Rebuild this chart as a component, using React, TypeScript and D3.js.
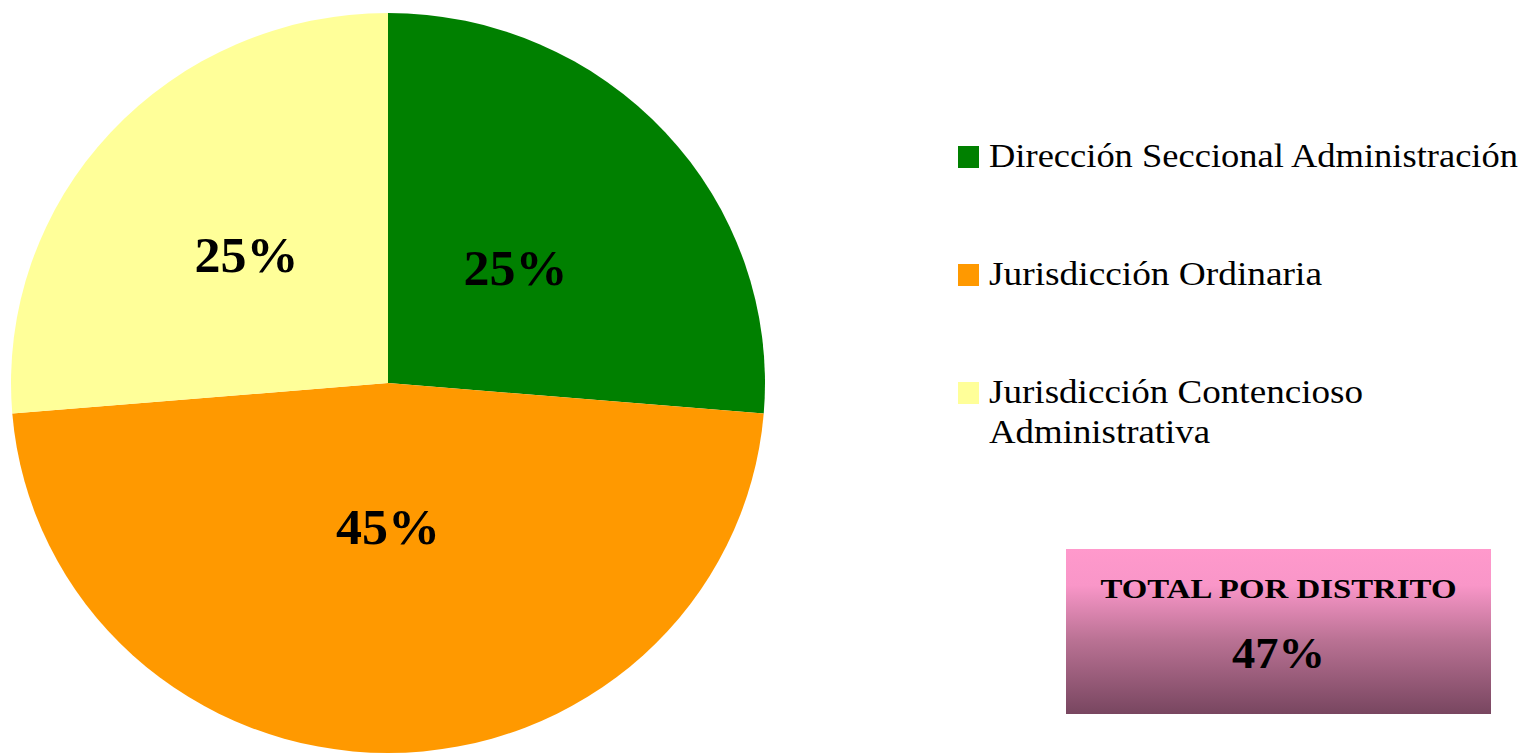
import React from "react";
import * as d3 from "d3";

const categories = [
  "Dirección Seccional Administración",
  "Jurisdicción Ordinaria",
  "Jurisdicción Contencioso Administrativa",
];
const values = [25, 45, 25];
const sliceLabels = ["25%", "45%", "25%"];
const colors = ["#008000", "#FF9900", "#FFFF99"];
const legendLines = [
  ["Dirección Seccional Administración"],
  ["Jurisdicción Ordinaria"],
  ["Jurisdicción Contencioso", "Administrativa"],
];
const totalTitle = "TOTAL POR DISTRITO";
const totalValue = "47%";

const W = 1524;
const H = 754;
const cx = 388;
const cy = 383;
const R = 370;
const sx = 377 / 370;
// layout: radial distance of each slice label, as a fraction of the radius
const labelDist = [0.46, 0.39, 0.51];

export default function App() {
  const pie = d3.pie<number>().sort(null).value((d) => d);
  const arcs = pie(values);
  const arc = d3.arc<d3.PieArcDatum<number>>().innerRadius(0).outerRadius(R);

  const legendX = 958;
  const legendY = d3.scaleLinear().domain([0, 1]).range([146, 264]);
  const legendWidths = [529, 333, 374];
  const lineWidths2 = [221];

  return (
    <svg
      width={W}
      height={H}
      style={{ position: "absolute", left: 0, top: 0, background: "#fff" }}
    >
      <defs>
        <linearGradient id="boxGrad" x1="0" y1="0" x2="0" y2="1">
          <stop offset="0" stopColor="#FF99CC" />
          <stop offset="0.22" stopColor="#F996C8" />
          <stop offset="0.55" stopColor="#BA7294" />
          <stop offset="1" stopColor="#784660" />
        </linearGradient>
      </defs>
      <g transform={`translate(${cx},${cy}) scale(${sx},1)`}>
        {arcs.map((a, i) => (
          <path key={i} d={arc(a) || ""} fill={colors[i]} />
        ))}
      </g>
      {arcs.map((a, i) => {
        const la = d3
          .arc<d3.PieArcDatum<number>>()
          .innerRadius(R * labelDist[i] * 2)
          .outerRadius(0);
        const [lx, ly] = la.centroid(a);
        return (
          <text
            key={i}
            x={cx + lx * sx}
            y={cy + ly}
            textAnchor="middle"
            dominantBaseline="central"
            fontFamily="'Liberation Serif', serif"
            fontWeight="bold"
            fontSize={50}
            textLength={104}
            lengthAdjust="spacingAndGlyphs"
            fill="#000"
          >
            {sliceLabels[i]}
          </text>
        );
      })}
      {categories.map((c, i) => {
        const y = legendY(i);
        return (
          <g key={c}>
            <rect x={legendX} y={y} width={21} height={22} fill={colors[i]} />
            {legendLines[i].map((line, j) => (
              <text
                key={j}
                x={legendX + 31}
                y={y + 21 + j * 40}
                fontFamily="'Liberation Serif', serif"
                fontSize={33}
                textLength={j === 0 ? legendWidths[i] : lineWidths2[j - 1]}
                lengthAdjust="spacingAndGlyphs"
                fill="#000"
              >
                {line}
              </text>
            ))}
          </g>
        );
      })}
      <g>
        <rect x={1066} y={549} width={425} height={165} fill="url(#boxGrad)" />
        <text
          x={1066 + 425 / 2}
          y={598}
          textAnchor="middle"
          fontFamily="'Liberation Serif', serif"
          fontWeight="bold"
          fontSize={27}
          textLength={356}
          lengthAdjust="spacingAndGlyphs"
          fill="#000"
        >
          {totalTitle}
        </text>
        <text
          x={1066 + 425 / 2}
          y={668}
          textAnchor="middle"
          fontFamily="'Liberation Serif', serif"
          fontWeight="bold"
          fontSize={44}
          textLength={93}
          lengthAdjust="spacingAndGlyphs"
          fill="#000"
        >
          {totalValue}
        </text>
      </g>
    </svg>
  );
}
